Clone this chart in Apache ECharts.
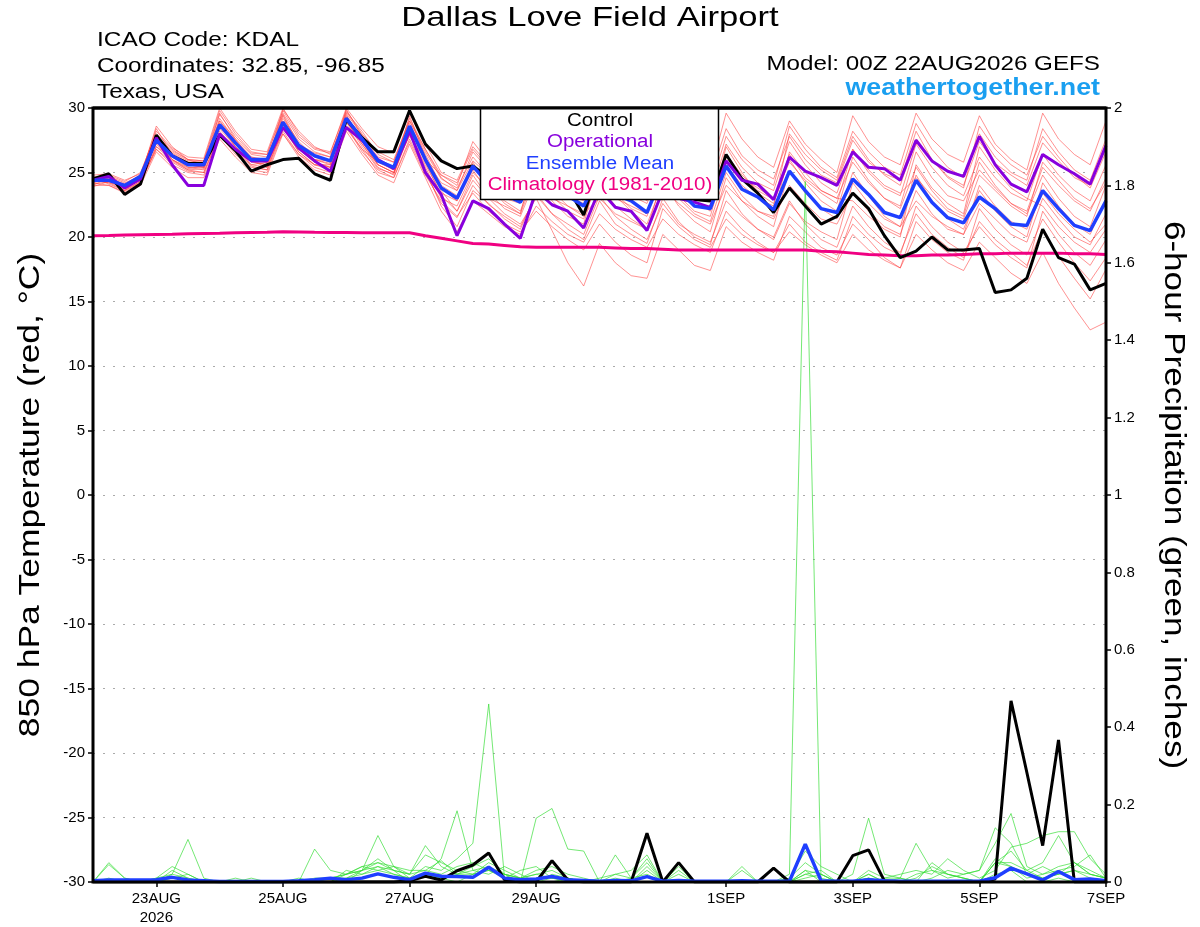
<!DOCTYPE html>
<html>
<head>
<meta charset="utf-8">
<script src="https://cdn.jsdelivr.net/npm/echarts@6/dist/echarts.min.js"></script>
<style>
html,body{margin:0;padding:0;background:#fff;}
#chart{width:1200px;height:927px;}
</style>
</head>
<body>
<div id="chart"></div>
<script>
// 6-hourly steps from 22AUG2026 00Z (index 0) to 07SEP2026 00Z (index 64)
const X_TICK_INDEX = [4, 12, 20, 28, 40, 48, 56, 64];
const X_TICK_LABELS = ['23AUG\n2026', '25AUG', '27AUG', '29AUG', '1SEP', '3SEP', '5SEP', '7SEP'];

const CONTROL_T = [24.5,24.9,23.3,24.1, 27.9,26.3,25.7,25.7, 27.9,26.7,25.1,25.6, 26.0,26.1,24.9,24.4,
  29.1,27.7,26.6,26.6, 29.8,27.2,25.9,25.3, 25.5,24.6,23.9,23.3, 25.8,24.6,23.8,21.7,
  25.5,24.5,23.8,23.4, 25.8,24.8,22.9,22.8, 26.4,24.5,23.4,21.9, 23.8,22.4,21.0,21.6,
  23.4,22.2,20.1,18.4, 18.9,20.0,19.0,19.0, 19.1,15.7,15.9,16.8, 20.6,18.4,17.9,15.9, 16.4];

const OPER_T = [24.4,24.7,23.8,24.5, 27.7,25.6,24.0,24.0, 28.0,26.8,25.9,25.9, 28.5,26.9,25.9,25.1,
  28.5,27.5,26.0,25.3, 28.2,25.0,23.3,20.1, 22.8,22.2,21.0,19.9, 23.6,22.5,22.0,20.7,
  23.7,22.3,22.0,20.5, 23.6,23.0,22.7,22.3, 25.9,24.4,24.1,22.9, 26.2,25.1,24.6,24.0,
  26.6,25.4,25.3,24.4, 27.5,25.9,25.1,24.7, 27.8,25.6,24.1,23.5, 26.4,25.6,24.9,24.1, 27.1];

const MEAN_T = [24.4,24.4,24.0,24.7, 27.5,26.3,25.6,25.6, 28.7,27.3,26.0,26.0, 28.9,27.1,26.3,25.9,
  29.2,27.6,25.9,25.4, 28.6,26.0,23.8,23.0, 25.5,24.1,23.3,22.7, 25.1,24.0,23.2,22.4,
  24.9,23.3,22.8,21.9, 24.9,23.6,22.4,22.2, 25.5,23.7,23.1,22.1, 25.1,23.6,22.2,21.9,
  24.5,23.3,21.9,21.5, 24.4,22.7,21.5,21.1, 23.1,22.2,21.0,20.9, 23.6,22.2,20.9,20.5, 22.8];

const CLIMO_T = [20.1,20.12,20.15,20.18, 20.2,20.22,20.25,20.28, 20.3,20.33,20.35,20.37, 20.4,20.38,20.36,20.35,
  20.34,20.33,20.32,20.32, 20.33,20.1,19.9,19.7, 19.5,19.45,19.35,19.25, 19.2,19.2,19.2,19.2,
  19.2,19.15,19.1,19.1, 19.05,19.0,19.0,19.0, 19.0,19.0,19.0,19.0, 19.0,19.0,18.9,18.85,
  18.75,18.65,18.6,18.55, 18.55,18.6,18.6,18.65, 18.7,18.7,18.75,18.75, 18.75,18.75,18.7,18.7, 18.65];

const RED_M1 = [24.6,24.8,24.3,25.0, 28.0,26.8,26.0,25.9, 29.5,27.8,26.5,26.4, 29.8,27.8,26.8,26.5,
  30.0,28.4,27.0,26.5, 29.6,27.2,25.0,24.4, 27.0,25.6,24.8,24.2, 27.0,25.5,24.5,24.0,
  27.2,25.4,24.8,24.0, 27.6,26.0,24.9,24.6, 28.4,26.3,25.2,24.5, 27.8,26.0,24.8,24.2,
  27.5,25.8,24.9,24.4, 28.2,26.0,24.7,24.0, 27.4,25.7,24.8,24.0, 27.3,25.9,24.6,24.0, 27.0];
const RED_M2 = [24.0,24.0,23.5,24.2, 26.8,25.6,25.0,24.8, 28.0,26.8,25.2,25.0, 28.2,26.4,25.4,25.0,
  28.6,26.8,25.0,24.6, 27.6,25.0,22.6,21.5, 24.0,22.5,21.6,20.8, 23.2,21.8,20.6,19.8,
  22.8,21.0,20.2,19.5, 23.0,21.2,20.0,19.4, 23.6,21.8,20.6,20.0, 22.8,21.0,19.8,19.2,
  22.4,20.8,19.6,18.8, 21.8,20.2,19.2,18.4, 21.2,19.8,18.8,17.8, 20.6,18.5,16.8,15.2, 17.5];
const RED_M3 = [24.2,24.5,23.8,24.5, 27.2,26.0,25.2,25.3, 28.4,27.0,25.6,25.8, 28.8,26.8,25.8,25.4,
  29.0,27.2,25.4,24.8, 28.4,25.8,23.2,22.0, 24.8,23.0,21.8,21.0, 23.0,20.5,18.0,16.2,
  19.5,18.0,17.0,16.8, 20.2,19.0,17.8,17.4, 20.8,19.6,18.8,18.2, 21.6,20.4,19.2,18.6,
  21.0,19.8,18.4,17.6, 20.2,19.0,18.0,17.4, 19.6,18.4,17.2,16.4, 18.8,16.4,14.5,12.8, 13.4];
const RED_M4 = [24.5,24.2,23.9,24.4, 27.6,26.5,25.8,25.6, 29.2,27.5,26.2,26.0, 29.5,27.2,26.5,26.2,
  29.6,27.9,26.2,25.8, 29.0,26.6,24.5,23.8, 26.2,24.8,23.9,23.2, 26.0,24.6,23.6,23.0,
  25.8,24.0,23.2,22.6, 25.9,24.2,23.2,22.8, 26.4,24.8,23.6,22.9, 26.4,24.6,23.6,23.0,
  25.8,24.2,23.0,22.4, 26.6,24.6,23.2,22.8, 25.2,23.8,22.6,22.0, 25.4,24.0,22.8,22.0, 24.6];
const RED_M5 = [24.3,24.6,24.1,24.8, 27.9,26.2,25.4,25.2, 28.6,27.0,25.8,25.6, 29.0,26.9,26.0,25.7,
  29.3,27.4,25.6,25.0, 28.2,25.4,23.0,22.4, 25.0,23.8,22.8,22.0, 25.4,23.6,22.4,21.6,
  24.6,23.0,22.4,21.8, 24.8,23.0,21.8,21.2, 25.0,23.2,22.0,21.4, 24.0,22.6,21.4,21.0,
  23.4,22.0,20.8,20.2, 23.6,21.8,20.6,20.2, 22.6,21.4,20.2,19.6, 23.0,21.4,20.0,19.4, 21.8];
const RED_M6 = [24.8,24.9,24.4,24.9, 28.2,26.9,26.2,26.1, 30.0,28.2,26.8,26.6, 30.0,28.0,26.9,26.6,
  29.8,28.0,26.6,26.0, 29.0,26.8,24.6,23.6, 26.6,25.2,24.2,23.6, 27.8,26.0,25.0,24.2,
  27.8,26.2,25.2,24.6, 28.2,26.4,25.6,25.0, 29.6,27.6,26.2,25.4, 29.0,27.2,26.0,25.0,
  29.4,27.4,26.2,25.6, 29.6,27.6,26.4,25.8, 29.4,27.2,26.0,25.2, 29.6,27.6,26.4,25.6, 29.0];
const RED_M7 = [24.1,24.3,23.7,24.3, 27.0,25.9,25.2,25.0, 28.2,26.8,25.5,25.2, 28.5,26.6,25.6,25.2,
  28.9,27.0,25.3,24.9, 28.0,25.2,22.4,20.8, 23.6,22.6,21.4,20.6, 23.4,21.8,21.0,20.2,
  23.2,21.6,20.6,19.8, 22.6,21.0,20.2,19.6, 22.8,21.6,20.6,19.8, 22.6,21.2,20.4,19.8,
  24.2,22.6,21.4,20.8, 22.8,21.6,20.8,20.2, 24.0,22.4,21.2,20.6, 23.4,21.8,20.6,19.6, 21.0];
const RED_M8 = [24.6,24.1,23.6,24.6, 27.4,26.6,25.9,25.8, 29.0,27.6,26.4,26.2, 29.2,27.4,26.2,25.8,
  29.4,27.6,26.0,25.4, 28.8,26.4,24.0,23.2, 25.6,24.2,23.0,22.6, 26.2,24.4,23.4,22.8,
  26.4,24.8,23.6,22.8, 26.8,25.0,23.8,23.2, 27.2,25.4,24.2,23.6, 27.4,25.6,24.2,23.4,
  26.8,25.0,23.8,23.2, 27.2,25.4,24.0,23.2, 26.2,24.6,23.4,22.8, 26.4,24.8,23.6,22.8, 25.6];
const RED_M9 = [23.9,24.3,23.9,24.6, 27.3,26.0,25.3,25.5, 28.8,27.2,25.9,25.4, 28.6,26.6,25.6,25.4,
  29.0,27.2,25.6,25.0, 28.0,25.6,23.4,22.8, 25.2,23.4,22.2,21.6, 24.6,22.8,21.6,21.0,
  25.4,23.2,22.0,21.0, 24.2,22.4,21.2,20.4, 24.6,22.8,21.6,20.8, 25.2,23.4,22.2,21.4,
  25.0,23.2,21.6,20.8, 24.8,22.8,21.4,20.6, 23.6,22.0,20.8,20.0, 24.2,22.4,21.0,20.2, 23.0];
const RED_M10 = [24.4,24.7,24.2,24.7, 28.4,26.4,25.6,25.4, 29.6,27.6,26.0,25.8, 29.4,27.0,26.0,25.6,
  29.9,27.8,25.8,25.2, 29.4,26.2,23.8,22.8, 25.8,24.0,22.6,21.8, 25.0,23.2,22.0,21.4,
  25.0,23.4,22.2,21.6, 25.6,23.8,22.8,22.0, 27.0,25.0,23.4,22.6, 26.0,24.2,22.8,22.0,
  26.2,24.4,23.0,22.2, 25.4,23.6,22.2,21.6, 25.8,24.0,22.6,21.8, 24.8,23.0,21.6,20.8, 24.0];
const RED_M11 = [24.2,24.0,23.4,24.0, 26.6,25.4,24.6,24.6, 27.6,26.2,25.0,24.8, 28.0,26.2,25.2,24.8,
  28.2,26.4,24.8,24.2, 27.2,24.6,22.0,20.4, 22.8,21.8,20.8,20.2, 22.4,21.2,20.2,19.6,
  21.8,20.6,19.8,19.2, 21.4,20.2,19.4,18.8, 22.0,20.6,19.6,18.8, 21.0,19.6,18.8,18.2,
  21.6,20.2,19.2,18.6, 22.4,20.8,19.6,18.8, 20.8,19.4,18.4,17.6, 22.0,20.2,18.8,17.8, 19.8];
const RED_M12 = [24.7,24.4,24.0,24.8, 27.8,26.7,26.0,25.9, 29.8,28.0,26.6,26.4, 29.6,27.6,26.6,26.2,
  29.7,28.2,26.4,25.8, 29.2,26.8,24.8,24.0, 27.4,25.8,24.8,24.2, 26.8,25.0,24.0,23.4,
  27.0,25.2,24.0,23.4, 27.2,25.4,24.4,23.8, 27.8,26.0,24.8,24.0, 28.6,26.8,25.4,24.6,
  28.2,26.6,25.4,24.8, 28.8,26.8,25.4,24.6, 28.0,26.2,25.0,24.4, 28.4,26.6,25.2,24.4, 27.6];
const RED_M13 = [24.3,24.5,23.6,24.2, 27.0,26.2,25.6,25.4, 28.8,27.0,25.9,25.6, 29.9,28.2,27.0,26.4,
  29.2,27.6,26.0,25.4, 28.6,26.0,24.2,23.6, 25.9,24.8,24.0,23.4, 24.2,23.0,22.4,21.8,
  23.0,21.8,21.2,20.6, 24.6,23.2,22.0,21.6, 26.0,24.6,23.8,23.0, 25.8,24.4,23.4,22.6,
  26.8,25.2,24.0,23.4, 24.6,23.2,22.0,21.4, 24.8,23.6,22.4,21.6, 25.8,24.4,23.0,22.2, 24.2];
const RED_M14 = [24.0,24.6,24.0,24.4, 27.6,26.0,25.4,25.4, 29.0,27.4,26.2,25.8, 28.0,26.4,25.6,25.6,
  29.5,27.4,25.6,25.0, 28.6,25.8,23.6,22.0, 24.4,23.0,22.4,21.8, 26.4,24.6,23.2,22.6,
  24.0,22.4,21.4,20.6, 23.8,22.6,21.6,21.0, 24.0,22.8,22.0,21.6, 26.6,25.0,23.6,23.0,
  22.8,21.6,20.6,20.0, 25.6,23.8,22.6,21.8, 27.0,25.2,23.8,23.0, 22.4,20.8,19.6,18.8, 20.6];
const RED_M15 = [24.5,24.4,23.8,24.6, 28.6,27.0,26.0,25.6, 28.0,26.6,25.6,25.4, 29.0,27.2,26.0,25.9,
  28.4,26.8,25.8,25.4, 27.8,26.0,24.8,24.2, 26.8,25.4,24.6,23.8, 27.6,25.8,24.8,24.0,
  26.6,25.0,24.0,23.4, 26.2,24.6,23.6,23.0, 25.6,24.0,23.0,22.4, 28.0,26.4,25.2,24.4,
  27.8,26.0,24.8,24.0, 27.6,26.0,24.6,23.8, 28.6,26.8,25.6,24.8, 27.8,26.2,24.8,23.8, 26.6];
const RED_M16 = [24.4,24.2,23.6,24.3, 26.8,25.8,25.1,25.0, 27.9,26.4,25.4,25.2, 28.4,26.8,25.8,25.4,
  28.6,26.6,25.2,24.6, 27.4,24.8,22.8,21.6, 23.4,22.0,21.0,20.4, 22.0,20.8,19.8,19.0,
  21.0,19.6,18.6,18.0, 22.2,20.8,19.8,19.2, 21.4,20.2,19.4,18.8, 20.4,19.4,18.6,18.0,
  20.2,19.0,18.2,17.6, 21.2,19.8,18.8,18.2, 22.2,20.6,19.4,18.6, 21.4,19.6,18.0,16.6, 18.4];
const RED_MEMBERS = [RED_M1, RED_M2, RED_M3, RED_M4, RED_M5, RED_M6, RED_M7, RED_M8,
  RED_M9, RED_M10, RED_M11, RED_M12, RED_M13, RED_M14, RED_M15, RED_M16];

const CONTROL_P = [0,0,0,0, 0,0,0,0, 0,0,0,0, 0,0,0,0,
  0,0,0,0, 0.003,0.015,0.005,0.029, 0.044,0.075,0.006,0, 0,0.055,0.005,0,
  0,0,0,0.126, 0,0.05,0,0, 0,0,0,0.036, 0,0,0,0,
  0.068,0.083,0.003,0, 0,0,0,0, 0,0.008,0.468,0.283, 0.094,0.367,0,0, 0];
const MEAN_P = [0.003,0.005,0.005,0.005, 0.006,0.012,0.005,0.003, 0.001,0.001,0.001,0.001, 0.001,0.003,0.006,0.01,
  0.006,0.01,0.021,0.012, 0.006,0.023,0.015,0.014, 0.012,0.038,0.01,0.006, 0.008,0.014,0.006,0.004,
  0.002,0.004,0.003,0.014, 0.002,0.004,0.002,0.002, 0.002,0.003,0.002,0.002, 0.002,0.098,0.003,0.002,
  0.002,0.006,0.003,0.002, 0.002,0.002,0.002,0.002, 0.002,0.011,0.036,0.021, 0.005,0.027,0.006,0.008, 0.003];

const GREEN_M1 = [0,0,0,0, 0,0,0,0, 0,0,0,0, 0,0,0,0, 0,0.03,0.05,0.03, 0,0.02,0.01,0, 0.02,0.03,0.01,0.03, 0.04,0.01,0,0,
  0,0,0,0, 0,0,0,0, 0,0,0,0, 0.02,1.81,0,0, 0,0.01,0,0, 0,0,0,0, 0,0.02,0.03,0, 0,0.01,0,0, 0];
const GREEN_M2 = [0,0,0,0, 0,0,0,0, 0,0,0.01,0, 0,0,0,0.01, 0.02,0.04,0.03,0.02, 0.01,0.04,0.03,0.06, 0.10,0.46,0.01,0, 0,0.01,0.01,0,
  0,0,0,0, 0,0,0,0, 0,0,0,0, 0,0.01,0.02,0, 0.02,0.165,0.02,0.01, 0,0,0,0, 0,0.05,0.04,0.01, 0.02,0.04,0.05,0.03, 0.01];
const GREEN_M3 = [0,0.05,0.01,0, 0.01,0.04,0.02,0, 0,0,0,0, 0,0,0,0, 0.01,0.02,0.03,0.04, 0.02,0.094,0.04,0.02, 0.03,0.04,0.02,0, 0.165,0.19,0.085,0.08,
  0,0,0.01,0.02, 0,0,0,0, 0,0,0,0, 0,0.02,0.01,0, 0,0,0.01,0.02, 0.03,0.02,0.06,0.03, 0.01,0.03,0.09,0.10, 0.12,0.13,0.13,0.06, 0.02];
const GREEN_M4 = [0,0.045,0.01,0, 0,0.03,0.01,0, 0,0,0,0, 0,0.01,0,0, 0.02,0.03,0.06,0.03, 0.02,0.07,0.05,0.03, 0.02,0.05,0.03,0.01, 0.02,0.03,0.01,0,
  0,0.07,0.01,0.06, 0,0,0,0, 0,0,0,0, 0,0.03,0.02,0, 0,0.03,0.01,0.01, 0.10,0.03,0.02,0.01, 0,0.06,0.04,0.02, 0.04,0.02,0.03,0.02, 0.01];
const GREEN_M5 = [0,0.01,0,0, 0.01,0.02,0.11,0.01, 0,0,0,0, 0,0,0,0.01, 0.01,0.03,0.04,0.02, 0.01,0.02,0.06,0.184, 0.03,0.02,0.04,0.02, 0,0,0.01,0,
  0,0,0,0.03, 0,0,0,0, 0,0.04,0,0, 0,0.03,0,0, 0,0.02,0,0, 0,0.05,0.02,0.01, 0,0.05,0.08,0.03, 0.05,0.12,0.05,0.02, 0.01];
const GREEN_M6 = [0,0,0,0, 0,0.01,0.02,0, 0,0,0,0, 0,0,0.085,0.03, 0.02,0.04,0.05,0.04, 0.03,0.03,0.02,0.04, 0.05,0.03,0.02,0.01, 0.02,0.01,0.01,0,
  0,0.02,0.01,0.05, 0,0.04,0,0, 0,0,0,0, 0.01,0.08,0.04,0.02, 0,0.01,0,0, 0.02,0.03,0.01,0.02, 0.03,0.14,0.10,0.02, 0.01,0.02,0.03,0.01, 0];
const GREEN_M7 = [0,0,0,0, 0,0.02,0.01,0, 0,0,0,0, 0,0,0.01,0.01, 0.02,0.03,0.12,0.04, 0.01,0.02,0.01,0.02, 0.04,0.06,0.02,0.01, 0,0.02,0.01,0,
  0.01,0.02,0.03,0.07, 0,0.03,0,0, 0,0.03,0,0, 0.01,0.05,0.02,0, 0,0.02,0,0.01, 0,0.01,0.03,0.02, 0.03,0.10,0.177,0.04, 0.02,0.03,0.04,0.07, 0.01];
const GREEN_M8 = [0,0,0,0, 0,0,0,0, 0,0.01,0,0, 0,0,0,0, 0.03,0.02,0.04,0.03, 0.02,0.03,0.055,0.02, 0.02,0.03,0.02,0.01, 0.03,0.04,0.02,0.01,
  0,0.01,0,0.04, 0,0.02,0,0, 0,0,0,0, 0,0.02,0.03,0, 0,0.01,0,0, 0.01,0.04,0.02,0.01, 0,0.05,0.05,0.03, 0.01,0.02,0.05,0.02, 0.01];
const GREEN_MEMBERS = [GREEN_M1, GREEN_M2, GREEN_M3, GREEN_M4, GREEN_M5, GREEN_M6, GREEN_M7, GREEN_M8];

const pairs = arr => arr.map((v, i) => [i, v]);
const FONT = '"Liberation Sans", Arial, Helvetica, sans-serif';

const series = [];
RED_MEMBERS.forEach((m, k) => series.push({
  name: 'red' + k, type: 'line', yAxisIndex: 0, data: pairs(m), showSymbol: false, symbol: 'none',
  lineStyle: { color: '#ff3b3b', width: 0.8, opacity: 0.7 }, z: 1, silent: true
}));
GREEN_MEMBERS.forEach((m, k) => series.push({
  name: 'green' + k, type: 'line', yAxisIndex: 1, data: pairs(m), showSymbol: false, symbol: 'none',
  lineStyle: { color: '#33dd33', width: 0.8, opacity: 0.85 }, z: 2, silent: true
}));
series.push({ name: 'Climatology', type: 'line', yAxisIndex: 0, data: pairs(CLIMO_T), symbol: 'none',
  lineStyle: { color: '#f00082', width: 3 }, z: 3 });
series.push({ name: 'Control', type: 'line', yAxisIndex: 0, data: pairs(CONTROL_T), symbol: 'none',
  lineStyle: { color: '#000000', width: 3 }, z: 4 });
series.push({ name: 'Control precip', type: 'line', yAxisIndex: 1, data: pairs(CONTROL_P), symbol: 'none',
  lineStyle: { color: '#000000', width: 3 }, z: 4 });
series.push({ name: 'Operational', type: 'line', yAxisIndex: 0, data: pairs(OPER_T), symbol: 'none',
  lineStyle: { color: '#8800dd', width: 3 }, z: 5 });
series.push({ name: 'Ensemble Mean', type: 'line', yAxisIndex: 0, data: pairs(MEAN_T), symbol: 'none',
  lineStyle: { color: '#1f3fff', width: 3.5 }, z: 6 });
series.push({ name: 'Ensemble Mean precip', type: 'line', yAxisIndex: 1, data: pairs(MEAN_P), symbol: 'none',
  lineStyle: { color: '#1f3fff', width: 3.5 }, z: 6 });

function txt(x, y, text, font, fill, align, sx, rot) {
  return { type: 'text', x: x, y: y, z: 101, scaleX: sx || 1, rotation: rot || 0,
    style: { text: text, font: font, fill: fill, textAlign: align, textVerticalAlign: 'middle' } };
}

const chart = echarts.init(document.getElementById('chart'), null, { renderer: 'canvas' });
chart.setOption({
  animation: false,
  backgroundColor: '#ffffff',
  textStyle: { fontFamily: FONT },
  grid: { left: 93, right: 94, top: 108, bottom: 44, show: true, borderColor: '#000', borderWidth: 3, backgroundColor: 'transparent', z: 10 },
  xAxis: {
    type: 'value', min: 0, max: 64,
    axisLine: { show: false, onZero: false },
    axisTick: { show: true, customValues: X_TICK_INDEX, length: 5, lineStyle: { color: '#000', width: 1.5 } },
    axisLabel: {
      customValues: X_TICK_INDEX, color: '#000', fontSize: 15, fontFamily: FONT, lineHeight: 19, margin: 7,
      formatter: v => X_TICK_LABELS[X_TICK_INDEX.indexOf(v)] || ''
    },
    splitLine: { show: false }
  },
  yAxis: [
    {
      type: 'value', min: -30, max: 30, interval: 5, position: 'left',
      axisLine: { show: false },
      axisTick: { show: true, length: 5, lineStyle: { color: '#000', width: 1.5 } },
      axisLabel: { color: '#000', fontSize: 15, fontFamily: FONT, margin: 8 },
      splitLine: { show: true, lineStyle: { color: '#aaaaaa', width: 1, type: [2, 8] } }
    },
    {
      type: 'value', min: 0, max: 2, interval: 0.2, position: 'right',
      axisLine: { show: false },
      axisTick: { show: true, length: 5, lineStyle: { color: '#000', width: 1.5 } },
      axisLabel: { color: '#000', fontSize: 15, fontFamily: FONT, margin: 8 },
      splitLine: { show: false }
    }
  ],
  series: series,
  graphic: [
    txt(590, 18, 'Dallas Love Field Airport', '28px ' + FONT, '#000', 'center', 1.237),
    txt(97, 40, 'ICAO Code: KDAL', '20px ' + FONT, '#000', 'left', 1.22),
    txt(97, 66, 'Coordinates: 32.85, -96.85', '20px ' + FONT, '#000', 'left', 1.215),
    txt(97, 92, 'Texas, USA', '20px ' + FONT, '#000', 'left', 1.215),
    txt(1100, 64, 'Model: 00Z 22AUG2026 GEFS', '20px ' + FONT, '#000', 'right', 1.21),
    txt(1100, 89, 'weathertogether.net', 'bold 23px ' + FONT, '#1a9ff0', 'right', 1.165),
    txt(31, 495, '850 hPa Temperature (red, °C)', '30px ' + FONT, '#000', 'center', 1.18, Math.PI / 2),
    txt(1173, 495, '6-hour Precipitation (green, inches)', '30px ' + FONT, '#000', 'center', 1.17, -Math.PI / 2),
    { type: 'rect', z: 100, shape: { x: 480.5, y: 108, width: 238, height: 91.5 }, style: { fill: '#ffffff', stroke: '#000', lineWidth: 1.5 } },
    txt(600, 121, 'Control', '18px ' + FONT, '#000', 'center', 1.14),
    txt(600, 142, 'Operational', '18px ' + FONT, '#8800dd', 'center', 1.14),
    txt(600, 164, 'Ensemble Mean', '18px ' + FONT, '#1f3fff', 'center', 1.14),
    txt(600, 185, 'Climatology (1981-2010)', '18px ' + FONT, '#f00082', 'center', 1.14),
    { type: 'rect', z: 102, shape: { x: 93, y: 106.5, width: 1013, height: 3 }, style: { fill: '#000' } }
  ]
});
</script>
</body>
</html>
